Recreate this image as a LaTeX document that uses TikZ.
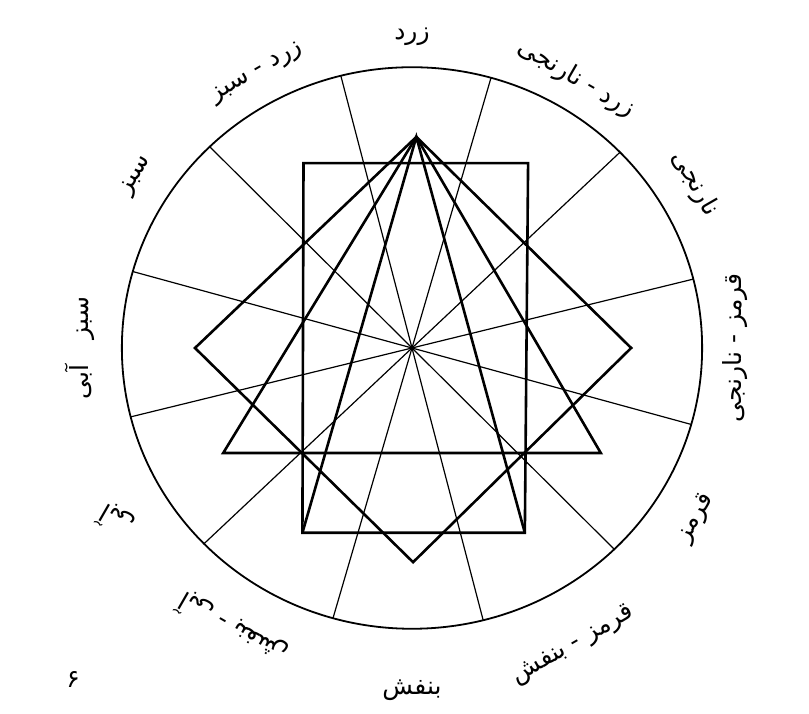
\documentclass[tikz,border=0pt]{standalone}
\usepackage{fontspec}
\newfontfamily\arabicfont[Script=Arabic]{DejaVu Sans}
\TeXXeTstate=1
\tikzset{
  figline/.style={line width=2.6pt, line join=miter},
  spokeline/.style={line width=1.2pt},
  rimline/.style={line width=1.8pt},
  lab/.style={font=\arabicfont\fontsize{25}{30}\selectfont, inner sep=0pt}
}
\begin{document}
\begin{tikzpicture}[x=1pt,y=1pt]
\fill[white] (0,0) rectangle (809,714);
\useasboundingbox (0,0) rectangle (809,714);
\begin{scope}[shift={(412,366)}, x=217pt, y=210pt]
  \coordinate (O) at (0,0);
  % spokes
  \foreach \a in {15,45,75,105,135,165} {
    \coordinate (sa\a) at (\a-0.8:1.336);
    \coordinate (sb\a) at (\a+180-0.8:1.336);
    \draw[spokeline] (sa\a) -- (sb\a);
  }
  \draw[rimline] (O) circle [radius=1.337];
  % vertices on inner circle
  \coordinate (A) at (0.02,1.005);
  \coordinate (Q0) at (1.01,0);
  \coordinate (Q180) at (-1.0,0);
  \coordinate (Q270) at (0.005,-1.02);
  \coordinate (T210) at (-0.87,-0.50);
  \coordinate (T330) at (0.87,-0.50);
  \coordinate (R60) at (0.535,0.88);
  \coordinate (R120) at (-0.50,0.88);
  \coordinate (R240) at (-0.505,-0.88);
  \coordinate (R300) at (0.52,-0.88);
  % square
  \draw[figline] (A) -- (Q0) -- (Q270) -- (Q180) -- cycle;
  % triangle
  \draw[figline] (A) -- (T330) -- (T210) -- cycle;
  % rectangle
  \draw[figline] (R60) -- (R120) -- (R240) -- (R300) -- cycle;
  % isosceles triangle
  \draw[figline] (R240) -- (A) -- (R300);
  % labels
  \node[lab, rotate=0]    (l90)  at (90:1.48)   {\beginR زرد\endR};
  \node[lab, rotate=-30]  (l60)  at (59.5:1.49)  {\beginR زرد - نارنجی\endR};
  \node[lab, rotate=-60]  (l30)  at (30.9:1.52)  {\beginR نارنجی\endR};
  \node[lab, rotate=90]   (l0)   at (0:1.49)     {\beginR قرمز - نارنجی\endR};
  \node[lab, rotate=60]   (lm30) at (-31.8:1.54) {\beginR قرمز\endR};
  \node[lab, rotate=30]   (lm60) at (-62.3:1.60) {\beginR قرمز - بنفش\endR};
  \node[lab, rotate=0]    (lm90) at (-90:1.63)   {\beginR بنفش\endR};
  \node[lab, rotate=150]  (l240) at (238.2:1.57) {\beginR آبی - بنفش\endR};
  \node[lab, rotate=150]  (l210) at (211:1.59)   {\beginR آبی\endR};
  \node[lab, rotate=90]   (l180) at (180:1.53)   {\beginR سبز\quad آبی\endR};
  \node[lab, rotate=60]   (l150) at (147.2:1.51) {\beginR سبز\endR};
  \node[lab, rotate=30]   (l120) at (118.6:1.49) {\beginR زرد - سبز\endR};
\end{scope}
\node[lab] (pg) at (73,34) {\beginR ۶\endR};
\end{tikzpicture}
\end{document}
